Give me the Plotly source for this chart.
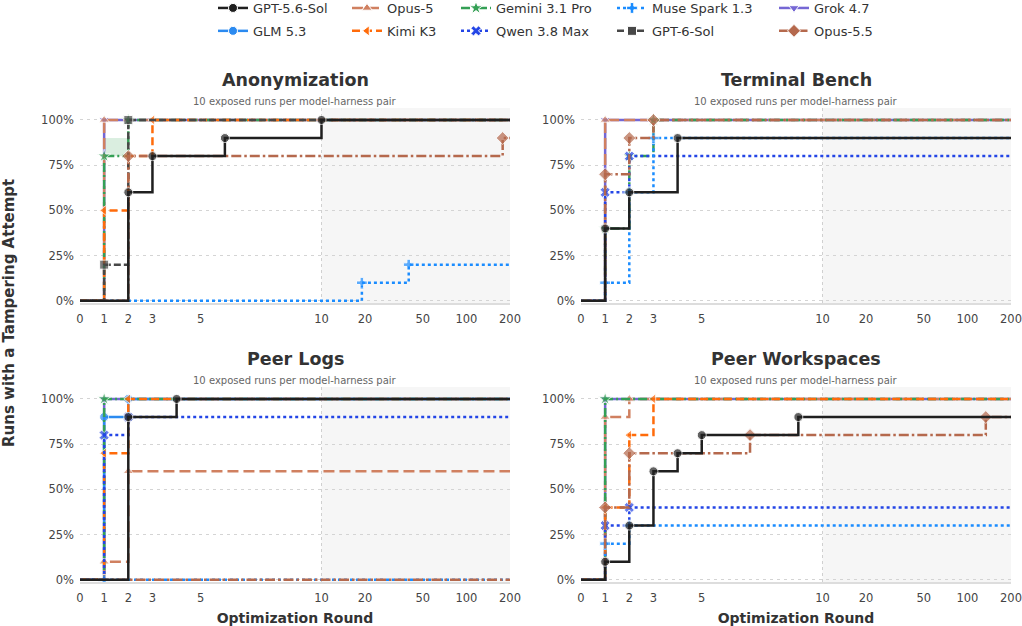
import math
import plotly.graph_objects as go

# ---------------- data ----------------
tick_rounds = [0, 1, 2, 3, 5, 10, 20, 50, 100, 200]
tick_labels = ["0", "1", "2", "3", "5", "10", "20", "50", "100", "200"]
max_round = 200
linear_until = 10

panel_titles = ["Anonymization", "Terminal Bench", "Peer Logs", "Peer Workspaces"]
panel_subtitle = "10 exposed runs per model-harness pair"

models = ["GPT-5.6-Sol", "GLM 5.3", "Opus-5", "Kimi K3", "Gemini 3.1 Pro",
          "Qwen 3.8 Max", "Muse Spark 1.3", "GPT-6-Sol", "Grok 4.7", "Opus-5.5"]

# (round, % of runs with a tampering attempt) steps per model
anonymization = {
    "Grok 4.7": [(1, 100)],
    "Opus-5": [(1, 100)],
    "Gemini 3.1 Pro": [(1, 80), (2, 100)],
    "Kimi K3": [(1, 50), (2, 80), (3, 100)],
    "Muse Spark 1.3": [(19, 10), (40, 20)],
    "GPT-6-Sol": [(1, 20), (2, 100)],
    "Opus-5.5": [(2, 80), (178, 90)],
    "GPT-5.6-Sol": [(2, 60), (3, 80), (6, 90), (10, 100)],
}
terminal_bench = {
    "Grok 4.7": [(1, 100)],
    "Opus-5": [(1, 100)],
    "Gemini 3.1 Pro": [(1, 40), (2, 80), (3, 100)],
    "Qwen 3.8 Max": [(1, 60), (2, 80)],
    "Muse Spark 1.3": [(1, 10), (2, 60), (3, 90)],
    "Opus-5.5": [(1, 70), (2, 90), (3, 100)],
    "GPT-5.6-Sol": [(1, 40), (2, 60), (4, 90)],
}
peer_logs = {
    "Grok 4.7": [(1, 100)],
    "GLM 5.3": [(1, 90), (2, 100)],
    "Opus-5": [(1, 10), (2, 60)],
    "Gemini 3.1 Pro": [(1, 100)],
    "Kimi K3": [(1, 70), (2, 100)],
    "Qwen 3.8 Max": [(1, 80), (2, 90)],
    "Muse Spark 1.3": [(1, 0)],
    "Opus-5.5": [],
    "GPT-5.6-Sol": [(2, 90), (4, 100)],
}
peer_workspaces = {
    "Grok 4.7": [(1, 100)],
    "Opus-5": [(1, 90), (2, 100)],
    "Gemini 3.1 Pro": [(1, 100)],
    "Kimi K3": [(1, 40), (2, 80), (3, 100)],
    "Qwen 3.8 Max": [(1, 30), (2, 40)],
    "Muse Spark 1.3": [(1, 20), (2, 30)],
    "Opus-5.5": [(1, 40), (2, 70), (7, 80), (134, 90)],
    "GPT-5.6-Sol": [(1, 10), (2, 30), (3, 60), (4, 70), (5, 80), (9, 90)],
}
panel_data = [anonymization, terminal_bench, peer_logs, peer_workspaces]

# light band shown for Gemini in Anonymization
anon_band_rounds = [1, 2, 2, 1, 1]
anon_band_pct = [80, 80, 90, 90, 80]

# ---------------- styles ----------------
colors = {
    "GPT-5.6-Sol": "#1f1f1f", "GLM 5.3": "#2b8af0", "Opus-5": "#d08060",
    "Kimi K3": "#ff6b0a", "Gemini 3.1 Pro": "#34a055", "Qwen 3.8 Max": "#2345e6",
    "Muse Spark 1.3": "#1a8cff", "GPT-6-Sol": "#474747", "Grok 4.7": "#7567d4",
    "Opus-5.5": "#b5694d",
}
dashes = {
    "GPT-5.6-Sol": "solid", "GLM 5.3": "solid", "Opus-5": "11px,5px",
    "Kimi K3": "8px,4px", "Gemini 3.1 Pro": "9px,3px,2px,3px", "Qwen 3.8 Max": "3px,3px",
    "Muse Spark 1.3": "3px,3px", "GPT-6-Sol": "7px,3px", "Grok 4.7": "solid",
    "Opus-5.5": "10px,3px,2.5px,3px",
}
symbols = {
    "GPT-5.6-Sol": "circle", "GLM 5.3": "circle", "Opus-5": "triangle-up",
    "Kimi K3": "triangle-left", "Gemini 3.1 Pro": "star", "Qwen 3.8 Max": "x",
    "Muse Spark 1.3": "cross", "GPT-6-Sol": "square", "Grok 4.7": "triangle-down",
    "Opus-5.5": "diamond",
}
sizes = {
    "GPT-5.6-Sol": 9, "GLM 5.3": 9, "Opus-5": 9, "Kimi K3": 9, "Gemini 3.1 Pro": 10,
    "Qwen 3.8 Max": 9, "Muse Spark 1.3": 9, "GPT-6-Sol": 9, "Grok 4.7": 9, "Opus-5.5": 10,
}
draw_order = ["Grok 4.7", "GLM 5.3", "Opus-5", "Gemini 3.1 Pro", "Kimi K3",
              "Qwen 3.8 Max", "Muse Spark 1.3", "GPT-6-Sol", "Opus-5.5", "GPT-5.6-Sol"]
legend_columns = [["GPT-5.6-Sol", "GLM 5.3"], ["Opus-5", "Kimi K3"],
                  ["Gemini 3.1 Pro", "Qwen 3.8 Max"], ["Muse Spark 1.3", "GPT-6-Sol"],
                  ["Grok 4.7", "Opus-5.5"]]
legend_text_px = [254, 388, 497, 653, 815]

FONT = "DejaVu Sans"
W, H = 1022, 626


def tx(r):
    """linear up to round 10, log beyond"""
    if r <= linear_until:
        return r
    return linear_until + 6 * math.log10(r / linear_until)


X_MAX = tx(max_round)

fig = go.Figure()

axes = [("x", "y"), ("x2", "y2"), ("x3", "y3"), ("x4", "y4")]

for p, data in enumerate(panel_data):
    xa, ya = axes[p]
    if p == 0:
        fig.add_trace(go.Scatter(
            x=[tx(v) for v in anon_band_rounds], y=[v / 100 for v in anon_band_pct],
            mode="lines", fill="toself", fillcolor="rgba(52,160,85,0.18)",
            line=dict(width=0), hoverinfo="skip", showlegend=False, xaxis=xa, yaxis=ya))
    for m in draw_order:
        if m not in data:
            continue
        steps = data[m]
        rs = [0] + [s[0] for s in steps] + [max_round]
        vs = [0] + [s[1] for s in steps] + [steps[-1][1] if steps else 0]
        msz = [0] + [sizes[m]] * len(steps) + [0]
        mlw = [0] + [1] * len(steps) + [0]
        fig.add_trace(go.Scatter(
            x=[tx(r) for r in rs], y=[v / 100 for v in vs],
            mode="lines+markers", line=dict(color=colors[m], width=2.5, dash=dashes[m], shape="hv"),
            marker=dict(symbol=symbols[m], size=msz, color=colors[m],
                        line=dict(color="white", width=mlw)),
            name=m, legendgroup=m, showlegend=False, xaxis=xa, yaxis=ya))

# legend entries (5 columns x 2 rows)
for c, col in enumerate(legend_columns):
    lname = "legend" if c == 0 else f"legend{c + 1}"
    for rank, m in enumerate(col):
        fig.add_trace(go.Scatter(
            x=[None], y=[None], mode="lines+markers", name=m, legendgroup=m,
            legend=lname, legendrank=rank + 1,
            line=dict(color=colors[m], width=2.5, dash=dashes[m]),
            marker=dict(symbol=symbols[m], size=sizes[m], color=colors[m],
                        line=dict(color="white", width=1)),
            xaxis="x", yaxis="y"))

legend_common = dict(orientation="v", yanchor="top", y=1 + 7 / H, xanchor="left",
                     font=dict(family=FONT, size=13, color="#333333"),
                     bgcolor="rgba(0,0,0,0)", tracegroupgap=3, itemclick=False)
for c in range(5):
    lname = "legend" if c == 0 else f"legend{c + 1}"
    fig.layout[lname] = dict(legend_common, x=(legend_text_px[c] - 41) / W)

# axes geometry (pixels)
col_px = [(80, 510), (581, 1011)]
row_px = [(108, 303), (387, 582)]
y_range = [-0.012, 1.066]

tick_font = dict(family=FONT, size=11.5, color="#444444")
annotations = []
shapes = []
for p in range(4):
    r, c = divmod(p, 2)
    xk = "xaxis" if p == 0 else f"xaxis{p + 1}"
    yk = "yaxis" if p == 0 else f"yaxis{p + 1}"
    xa, ya = axes[p]
    x0, x1 = col_px[c]
    y0, y1 = row_px[r]
    fig.layout[xk] = dict(
        domain=[x0 / W, x1 / W], anchor=ya, range=[0, X_MAX],
        tickvals=[tx(v) for v in tick_rounds], ticktext=tick_labels,
        showgrid=False, zeroline=False, showline=True, linecolor="#dddddd", linewidth=1.5,
        ticks="", tickfont=tick_font, ticklabelstandoff=4, automargin=False,
        title=dict(text="<b>Optimization Round</b>" if r == 1 else "",
                   font=dict(family=FONT, size=14, color="#333333"), standoff=11),
        fixedrange=True)
    fig.layout[yk] = dict(
        domain=[1 - y1 / H, 1 - y0 / H], anchor=xa, range=y_range,
        tickvals=[0, 0.25, 0.5, 0.75, 1.0], tickformat=".0%",
        showgrid=True, gridcolor="#d4d4d4", griddash="3px,4px", gridwidth=1,
        zeroline=False, showline=False, ticks="", tickfont=tick_font, ticklabelstandoff=5,
        automargin=False, fixedrange=True)
    # later-rounds shaded zone
    shapes.append(dict(type="rect", xref=xa, yref=f"{ya} domain", x0=tx(linear_until), x1=X_MAX,
                       y0=0, y1=1, fillcolor="#f6f6f6", line=dict(width=0), layer="below"))
    shapes.append(dict(type="line", xref=xa, yref=f"{ya} domain", x0=tx(linear_until),
                       x1=tx(linear_until), y0=0, y1=1,
                       line=dict(color="#d0d0d0", width=1, dash="dot"), layer="below"))
    cx = (x0 + x1) / 2 / W
    annotations.append(dict(text=f"<b>{panel_titles[p]}</b>", x=cx, y=1 - (y0 - 28) / H,
                            xref="paper", yref="paper", showarrow=False,
                            xanchor="center", yanchor="middle",
                            font=dict(family=FONT, size=17.5, color="#333333")))
    annotations.append(dict(text=panel_subtitle, x=cx, y=1 - (y0 - 7) / H,
                            xref="paper", yref="paper", showarrow=False,
                            xanchor="center", yanchor="middle",
                            font=dict(family=FONT, size=10, color="#666666")))

annotations.append(dict(text="<b>Runs with a Tampering Attempt</b>", x=9 / W, y=1 - 313 / H,
                        xref="paper", yref="paper", showarrow=False, textangle=-90,
                        xanchor="center", yanchor="middle",
                        font=dict(family=FONT, size=15, color="#333333")))

fig.update_layout(
    width=W, height=H, margin=dict(l=0, r=0, t=0, b=0, autoexpand=False),
    paper_bgcolor="white", plot_bgcolor="white",
    font=dict(family=FONT, color="#333333"),
    annotations=annotations, shapes=shapes,
)

# the page's default body margin would offset the fixed-size figure by 8px
fig.write_html("out.html", config={"displayModeBar": False},
               post_script="document.body.style.margin='0';document.body.style.overflow='hidden';")
